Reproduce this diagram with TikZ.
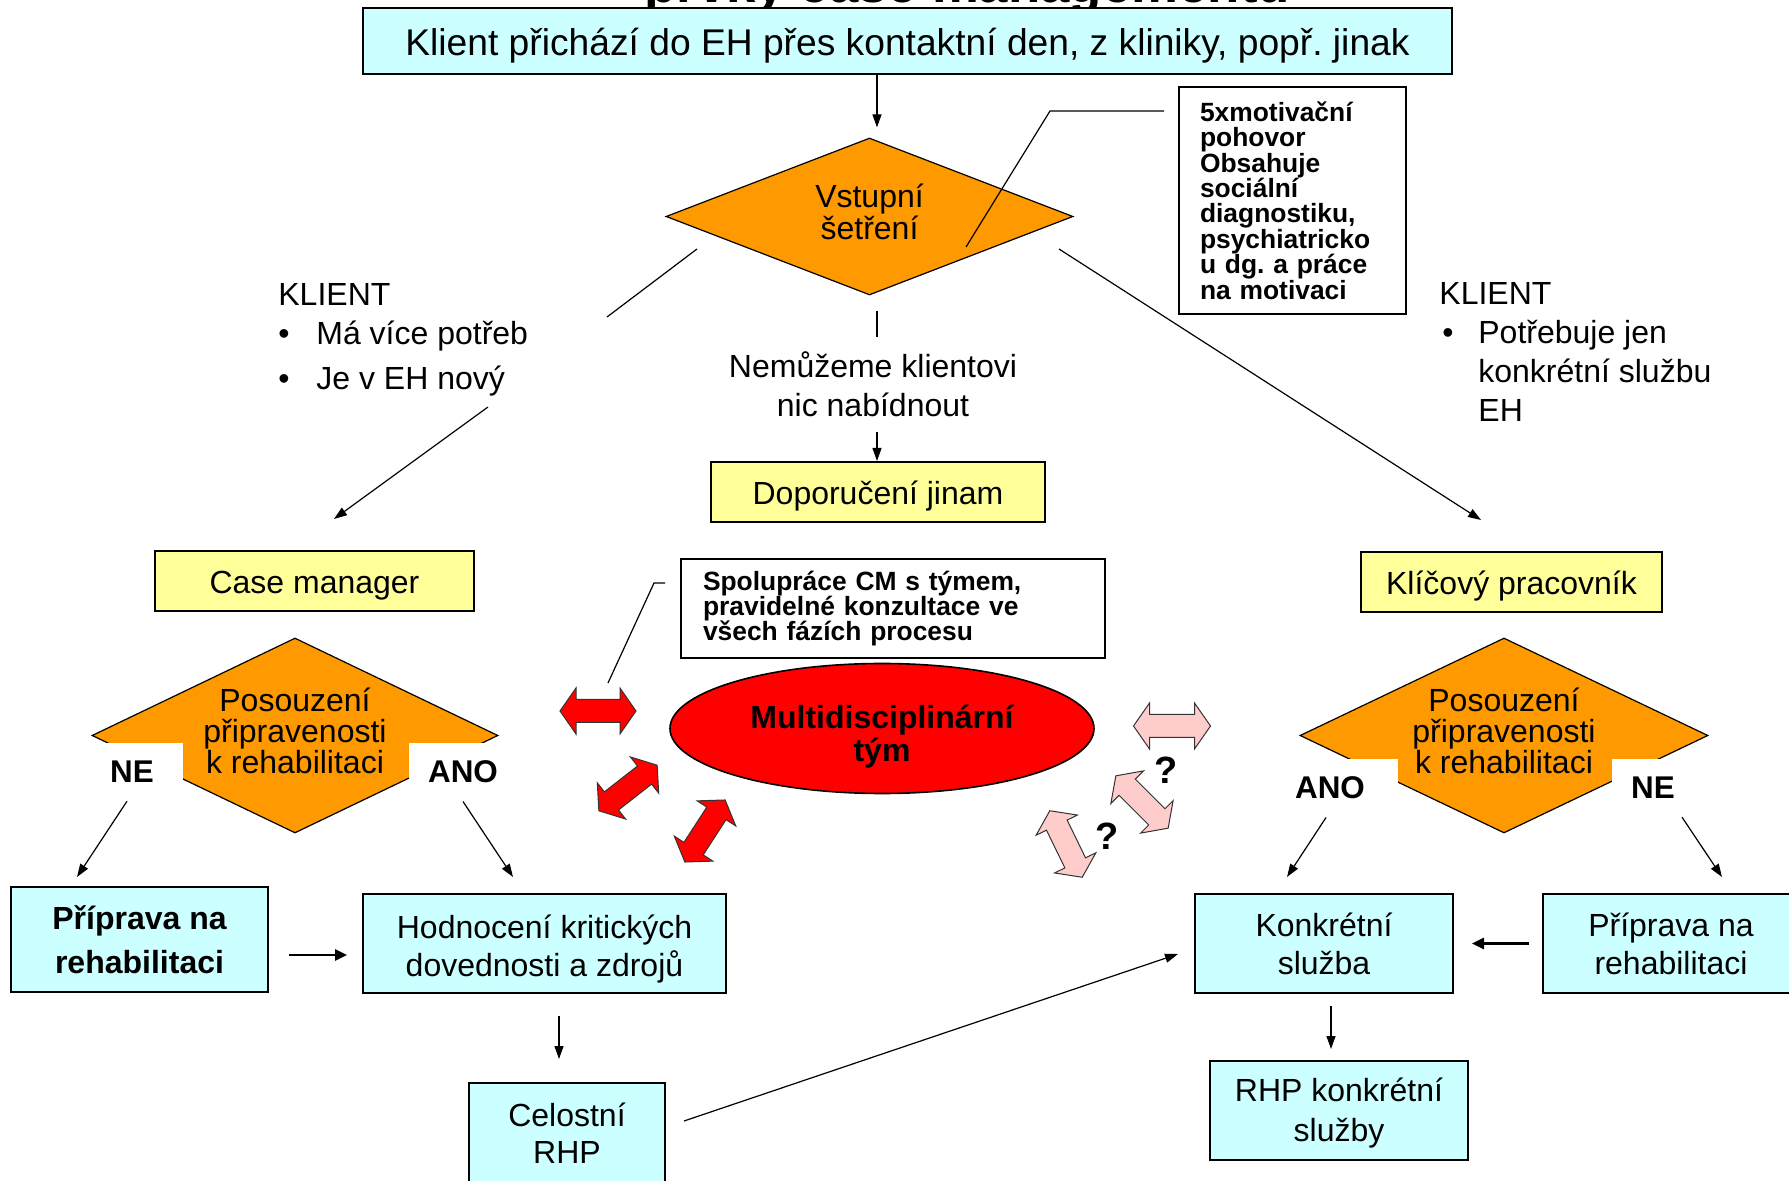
\documentclass[tikz,border=0pt]{standalone}
\usepackage{fontspec}
\setmainfont{Liberation Sans}
\usetikzlibrary{shapes.geometric,arrows.meta,positioning}

\definecolor{boxcyan}{HTML}{CCFFFF}
\definecolor{boxyellow}{HTML}{FFFF99}
\definecolor{rhomborange}{HTML}{FF9900}
\definecolor{teamred}{HTML}{FF0000}
\definecolor{teampink}{HTML}{FFCCCC}

\begin{document}
\frenchspacing
\begin{tikzpicture}[x=0.5pt, y=-0.5pt,
    txt/.style={inner sep=0pt, font=\fontsize{16}{19.5}\selectfont},
    cyanbox/.style={txt, draw, line width=1pt, fill=boxcyan, align=center},
    yellowbox/.style={txt, draw, line width=1pt, fill=boxyellow, align=center, minimum height=30pt, text height=12.5pt, text depth=0pt},
    rhomb/.style={diamond, draw, line width=0.6pt, fill=rhomborange, inner sep=0pt},
    rhombtext/.style={txt, align=center, font=\fontsize{16}{15.5}\selectfont},
    note/.style={draw, line width=0.9pt, fill=white, align=left, inner ysep=0pt, font=\bfseries\fontsize{13.2}{12.7}\selectfont},
    yesno/.style={inner sep=0pt, font=\bfseries\fontsize{15.7}{18}\selectfont},
    conn/.style={line width=0.6pt},
    arr/.style={conn, -{Triangle[length=6.5pt,width=4.5pt]}},
    fatarr/.style={line width=1.3pt, -{Triangle[length=6pt,width=5.5pt]}},
  ]
\useasboundingbox (0,0) rectangle (1789,1181);

% title, cut by the page edge
\node[anchor=base west, inner sep=0pt, font=\bfseries\fontsize{26.4}{30}\selectfont] (title) at (644,3) {prvky case managementu};

\node[cyanbox, minimum width=544.5pt, minimum height=33pt, text height=14.3pt, text depth=0pt, font=\fontsize{18.6}{22}\selectfont] (prichod) at (907.5,41) {Klient přichází do EH přes kontaktní den, z kliniky, popř. jinak};
\node[rhomb, minimum width=203.5pt, minimum height=78.5pt, aspect=2.6] (vstup) at (869.5,216.5) {};
\node[rhombtext, font=\fontsize{16}{16}\selectfont] (vstuptext) at (869.5,212) {Vstupní\\šetření};
\node[note, minimum width=113.5pt, minimum height=113.5pt, inner xsep=10.5pt, text width=92.5pt] (motiv) at (1292.5,200.5)
  {5xmotivační\\pohovor\\Obsahuje\\sociální\\diagnostiku,\\psychiatricko\\u dg. a práce\\na motivaci};

\coordinate (midaxis) at (877,0);
\coordinate (motivtip) at (966,247);
\coordinate (motivknee) at (1050,111);
\draw[conn, shorten >=7pt] (motivtip) -- (motivknee) -- (motivknee -| motiv.west);
\draw[arr, shorten >=5pt] (prichod.south -| midaxis) -- (vstup.north -| midaxis);

% klient groups
\node[txt, anchor=base west] (klientL) at (278,305.5)
  {\begin{tabular}[t]{@{}p{19pt}@{}l@{}}
   \multicolumn{2}{@{}l@{}}{KLIENT}\\
   \textbullet & Má více potřeb\\[3pt]
   \textbullet & Je v EH nový
   \end{tabular}};
\node[txt, anchor=base west] (klientR) at (1439,304.5)
  {\begin{tabular}[t]{@{}p{19.5pt}@{}l@{}}
   \multicolumn{2}{@{}l@{}}{KLIENT}\\
   \hspace{1.5pt}\textbullet & Potřebuje jen\\
   & konkrétní službu\\
   & EH
   \end{tabular}};

\node[txt, align=center] (nemuzeme) at (873,384) {Nemůžeme klientovi\\nic nabídnout};
\node[yellowbox, minimum width=167pt] (dopor) at (878,492) {Doporučení jinam};
\draw[conn, shorten <=7.5pt, shorten >=7pt] (vstup.south -| midaxis) -- (nemuzeme.north -| midaxis);
\draw[arr, shorten <=7.5pt] (nemuzeme.south -| midaxis) -- (dopor.north -| midaxis);

\node[yellowbox, minimum width=159.5pt] (cman) at (314.5,581) {Case manager};
\node[yellowbox, minimum width=150.5pt] (klic) at (1511.5,582) {Klíčový pracovník};

\coordinate (splitL) at (697,249);
\coordinate (gapL) at (607,317);
\coordinate (resumeL) at (488,407);
\coordinate (splitR) at (1059,249);
\draw[conn] (splitL) -- (gapL);
\draw[arr] (resumeL) -- ([xshift=9.75pt,yshift=15.5pt]cman.north);
\draw[arr] (splitR) -- ([xshift=-15.25pt,yshift=15.5pt]klic.north);

% readiness checks
\node[rhomb, minimum width=203pt, minimum height=97.5pt, aspect=2] (posL) at (295,735.5) {};
\node[rhomb, minimum width=204pt, minimum height=97.5pt, aspect=2] (posR) at (1504,735.5) {};
\node[rhombtext] (posLtext) at (295,731) {Posouzení\\připravenosti\\k rehabilitaci};
\node[rhombtext] (posRtext) at (1504,731) {Posouzení\\připravenosti\\k rehabilitaci};
\fill[white] (92,743) rectangle (183,795);
\fill[white] (409,743) rectangle (517,795);
\fill[white] (1292,759) rectangle (1398,805);
\fill[white] (1612,759) rectangle (1710,805);
\node[yesno] (neL) at (132,772) {NE};
\node[yesno] (anoL) at (463,772) {ANO};
\node[yesno] (anoR) at (1330,788) {ANO};
\node[yesno] (neR) at (1653,788) {NE};

% team
\node[note, minimum width=212pt, minimum height=49.5pt, inner xsep=11pt, text width=190pt] (spol) at (893,608.5)
  {Spolupráce CM s týmem,\\pravidelné konzultace ve\\všech fázích procesu};
\coordinate (spoltip) at (608,683);
\coordinate (spolknee) at (654,583);
\draw[conn, shorten >=7.5pt] (spoltip) -- (spolknee) -- (spolknee -| spol.west);
\node[ellipse, draw, line width=0.8pt, fill=teamred, inner sep=0pt, minimum width=212pt, minimum height=65pt, text height=36pt,
      align=center, font=\bfseries\fontsize{16}{16.5}\selectfont] (tym) at (882,728.5) {Multidisciplinární\\tým};

\foreach \cx/\cy/\ang/\len/\hw/\col in {598/711/0/76/23/teamred, 628/788/38/74/23/teamred, 705/831/57/74/23/teamred,
    1172/726/0/77/23/teampink, 1142/802/-45/74/23/teampink, 1066/844/-64/74/23/teampink}
  \filldraw[fill=\col, draw=black!80, line width=0.5pt, shift={(\cx,\cy)}, rotate=\ang]
    ({-\len/2},0) -- ({-\len/2+16},{-\hw}) -- ({-\len/2+16},{-\hw/2}) -- ({\len/2-16},{-\hw/2})
    -- ({\len/2-16},{-\hw}) -- ({\len/2},0) -- ({\len/2-16},{\hw}) -- ({\len/2-16},{\hw/2})
    -- ({-\len/2+16},{\hw/2}) -- ({-\len/2+16},{\hw}) -- cycle;
\node[yesno, font=\bfseries\fontsize{19}{19}\selectfont] (q1) at (1166,770) {?};
\node[yesno, font=\bfseries\fontsize{19}{19}\selectfont] (q2) at (1107,836) {?};

% bottom row
\node[cyanbox, minimum width=128.5pt, minimum height=52.5pt, font=\bfseries\fontsize{16}{22}\selectfont] (priprL) at (139.5,939.5) {Příprava na\\rehabilitaci};
\node[cyanbox, minimum width=181.5pt, minimum height=49.5pt, text height=35.9pt, font=\fontsize{16}{19}\selectfont] (hodn) at (544.5,943.5) {Hodnocení kritických\\dovednosti a zdrojů};
\node[cyanbox, minimum width=98pt, minimum height=50.5pt, font=\fontsize{16}{18.5}\selectfont] (celost) at (567,1133.5) {Celostní\\RHP};
\node[cyanbox, minimum width=129pt, minimum height=49.5pt, font=\fontsize{16}{19}\selectfont] (konkr) at (1324,943.5) {Konkrétní\\služba};
\node[cyanbox, minimum width=128pt, minimum height=49.5pt, font=\fontsize{16}{19}\selectfont] (priprR) at (1671,943.5) {Příprava na\\rehabilitaci};
\node[cyanbox, minimum width=129pt, minimum height=49.5pt, text height=34.6pt, font=\fontsize{16}{20}\selectfont] (rhp) at (1339,1110.5) {RHP konkrétní\\služby};

\draw[arr] ([xshift=-2.5pt,yshift=-9pt]neL.south) -- ([xshift=-31.25pt,yshift=4.5pt]priprL.north);
\draw[arr] ([yshift=-9pt]anoL.south) -- ([xshift=-15.75pt,yshift=8pt]hodn.north);
\draw[arr] ([xshift=-2pt,yshift=-9pt]anoR.south) -- ([xshift=-18.5pt,yshift=8pt]konkr.north);
\draw[arr] ([xshift=14.5pt,yshift=-9pt]neR.south) -- ([xshift=25.5pt,yshift=8pt]priprR.north);

\draw[fatarr, shorten <=10pt, shorten >=7.5pt] ([yshift=-7.75pt]priprL.east) -- ([yshift=-5.75pt]hodn.west);
\draw[arr, shorten <=11pt, shorten >=11.5pt] ([xshift=7.25pt]hodn.south) -- ([xshift=-4pt]celost.north);
\draw[arr] ([xshift=9pt,yshift=6.25pt]celost.east) -- ([xshift=-8pt,yshift=-5.25pt]konkr.west);
\draw[fatarr, shorten <=6.5pt, shorten >=9pt] (priprR.west) -- (konkr.east);
\draw[arr, shorten <=6pt, shorten >=5.5pt] ([xshift=3.5pt]konkr.south) -- ([xshift=-4pt]rhp.north);
\end{tikzpicture}
\end{document}
